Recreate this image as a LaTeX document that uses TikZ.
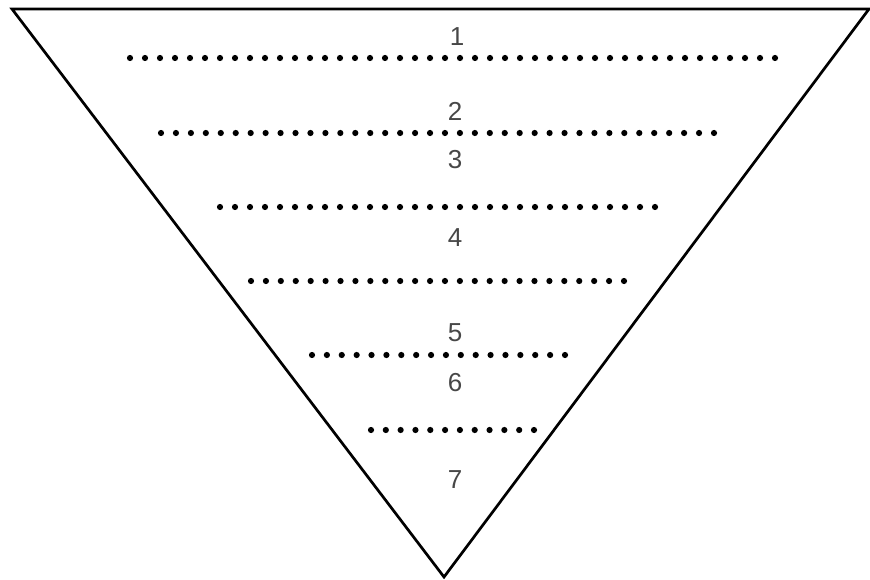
\documentclass[tikz,border=0pt]{standalone}
\usepackage{fontspec}
\setmainfont{Liberation Sans}
\begin{document}
\begin{tikzpicture}[x=1pt,y=-1pt,
  edge/.style={draw=black,line width=2.7pt,line join=miter},
  lbl/.style={font=\fontsize{26}{26}\selectfont,text=black!72,inner sep=0pt},
  dot/.style={fill=black}]
\useasboundingbox (0,0) rectangle (870,580);
\coordinate (tl) at (12,9);
\coordinate (tr) at (869,9);
\coordinate (ap) at (444,577);
\draw[edge] (tl) -- (tr) -- (ap) -- cycle;
% dotted lines: {x1/x2/y/n}
\foreach \xa/\xb/\yy/\n in {130/775/58/43, 161/714/133/37, 220/655/207/29, 251/624/281/25, 312/565/355/17, 371/534/430/11}{
  \pgfmathsetmacro{\sp}{(\xb-\xa)/\n}
  \foreach \k in {0,...,\n}{
    \fill[dot] (\xa+\k*\sp,\yy) circle (3.1);
  }
}
\node[lbl] (l1) at (457,37) {1};
\node[lbl] (l2) at (455,111) {2};
\node[lbl] (l3) at (455,160) {3};
\node[lbl] (l4) at (455,238) {4};
\node[lbl] (l5) at (455,333) {5};
\node[lbl] (l6) at (455,383) {6};
\node[lbl] (l7) at (455,480) {7};
\end{tikzpicture}
\end{document}
